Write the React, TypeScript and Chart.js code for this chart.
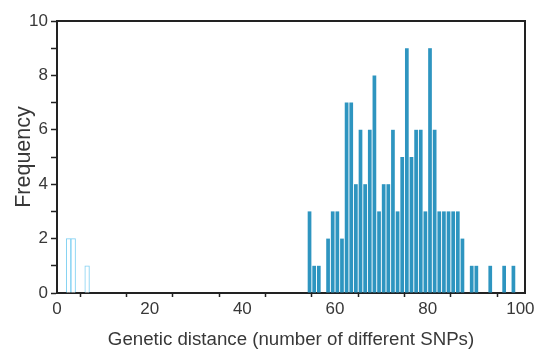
import React, { useEffect, useRef } from "react";
import { Chart, registerables } from "chart.js";

Chart.register(...registerables);

// Histogram bins (left edge of each 1-SNP bin) and frequencies
const nearBins = [2, 3, 6];
const nearCounts = [2, 2, 1];
const farBins = [
  54, 55, 56, 58, 59, 60, 61, 62, 63, 64, 65, 66, 67, 68, 69, 70, 71, 72, 73,
  74, 75, 76, 77, 78, 79, 80, 81, 82, 83, 84, 85, 86, 87, 89, 90, 93, 96, 98,
];
const farCounts = [
  3, 1, 1, 2, 3, 3, 2, 7, 7, 4, 6, 4, 6, 8, 3, 4, 4, 6, 3, 5, 9, 5, 6, 6, 3, 9,
  6, 3, 3, 3, 3, 3, 2, 1, 1, 1, 1, 1,
];
const xTickLabels = [0, 20, 40, 60, 80, 100];
const yTickLabels = [0, 2, 4, 6, 8, 10];
const xTitle = "Genetic distance (number of different SNPs)";
const yTitle = "Frequency";

const FONT = "'Liberation Sans', Arial, Helvetica, sans-serif";
const TEXT = "#383838";
const LINE = "#222222";

const framePlugin = {
  id: "frame",
  afterDraw(chart: any) {
    const { ctx, chartArea } = chart;
    const { left, right, top, bottom } = chartArea;
    ctx.save();
    ctx.strokeStyle = LINE;
    ctx.lineWidth = 2;
    ctx.beginPath();
    ctx.moveTo(left - 1, top);
    ctx.lineTo(right, top);
    ctx.lineTo(right, bottom + 1);
    ctx.stroke();
    ctx.restore();
  },
};

export default function App() {
  const ref = useRef<HTMLCanvasElement | null>(null);

  useEffect(() => {
    document.body.style.margin = "0";
    const canvas = ref.current;
    if (!canvas) return;
    const chart = new Chart(canvas, {
      type: "bar",
      data: {
        datasets: [
          {
            label: "near",
            data: nearBins.map((b, i) => ({ x: b + 0.5, y: nearCounts[i] })),
            backgroundColor: "#ffffff",
            borderColor: "#7fd0f2",
            borderWidth: 1,
            barPercentage: 1,
            categoryPercentage: 1,
            grouped: false,
          } as any,
          {
            label: "far",
            data: farBins.map((b, i) => ({ x: b + 0.5, y: farCounts[i] })),
            backgroundColor: "#2e95c0",
            borderWidth: 0,
            barPercentage: 0.8,
            categoryPercentage: 1,
            grouped: false,
          } as any,
        ],
      },
      options: {
        animation: false,
        responsive: false,
        maintainAspectRatio: false,
        layout: { padding: { top: 21, right: 24, left: 0, bottom: 0 } },
        plugins: {
          legend: { display: false },
          tooltip: { enabled: false },
        },
        scales: {
          x: {
            type: "linear",
            min: 0,
            max: 101,
            offset: false,
            ticks: {
              stepSize: 10,
              includeBounds: false,
              autoSkip: false,
              maxRotation: 0,
              padding: 2,
              color: TEXT,
              font: { size: 17, family: FONT },
              callback: (v: any) => (xTickLabels.includes(v) ? String(v) : ""),
            },
            grid: {
              display: true,
              drawOnChartArea: false,
              drawTicks: true,
              tickLength: 4,
              tickColor: LINE,
              tickWidth: 1.5,
            },
            border: { display: true, color: LINE, width: 2 },
            title: {
              display: true,
              text: xTitle,
              color: TEXT,
              font: { size: 18.7, family: FONT },
              padding: { top: 0, bottom: 3 },
            },
            afterFit: (s: any) => {
              s.height = 61;
            },
          } as any,
          y: {
            min: 0,
            max: 10,
            ticks: {
              stepSize: 1,
              autoSkip: false,
              padding: 3,
              color: TEXT,
              font: { size: 17, family: FONT },
              callback: (v: any) => (yTickLabels.includes(v) ? String(v) : ""),
            },
            grid: {
              display: true,
              drawOnChartArea: false,
              drawTicks: true,
              tickLength: 6,
              tickColor: LINE,
              tickWidth: 1.5,
            },
            border: { display: true, color: LINE, width: 2 },
            title: {
              display: true,
              text: yTitle,
              color: TEXT,
              font: { size: 21.5, family: FONT },
              padding: { top: 11, bottom: 0 },
            },
            afterFit: (s: any) => {
              s.width = 57;
            },
          } as any,
        },
      },
      plugins: [framePlugin],
    });
    return () => chart.destroy();
  }, []);

  return (
    <div style={{ width: 549, height: 354, position: "relative" }}>
      <canvas ref={ref} width={549} height={354} style={{ display: "block" }} />
    </div>
  );
}
